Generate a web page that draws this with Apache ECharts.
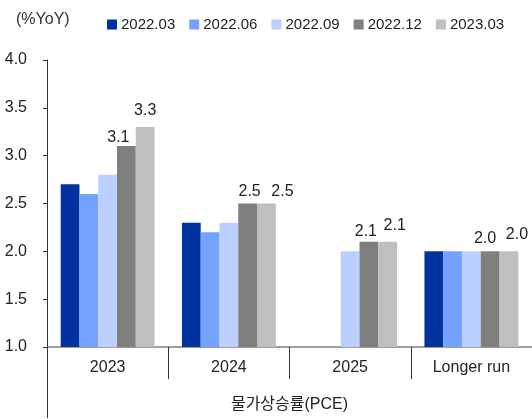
<!DOCTYPE html>
<html>
<head>
<meta charset="utf-8">
<script src="https://cdn.jsdelivr.net/npm/echarts@6/dist/echarts.min.js"></script>
<style>
  html, body { margin: 0; padding: 0; background: #fff; }
  #main { width: 532px; height: 419px; }
</style>
</head>
<body>
<div id="main"></div>
<script>
// 데이터
const categories = ['2023', '2024', '2025', 'Longer run'];
const groupLabel = '물가상승률(PCE)';
const seriesNames = ['2022.03', '2022.06', '2022.09', '2022.12', '2023.03'];
const v202203 = [2.7, 2.3, null, 2.0];
const v202206 = [2.6, 2.2, null, 2.0];
const v202209 = [2.8, 2.3, 2.0, 2.0];
const v202212 = [3.1, 2.5, 2.1, 2.0];
const v202303 = [3.3, 2.5, 2.1, 2.0];

const colors = ['#0033a0', '#75a1ff', '#bbd0ff', '#7f7f7f', '#bfbfbf'];
// 라벨 위치 미세조정 (원본 엑셀 차트의 수동 배치)
const labelShift12 = [[-8, 2], [2, -1], [-3, 1], [-5, -2]];
const labelShift03 = [[0, -5], [16, -1], [7, -5], [8, -6]];

const FONT = "'Liberation Sans', 'Noto Sans CJK KR', sans-serif";

var chartDom = document.getElementById('main');
var myChart = echarts.init(chartDom);

function withLabels(values, shifts) {
  return values.map((v, i) => ({
    value: v,
    label: { show: true, offset: shifts[i] },
  }));
}

const seriesData = [
  v202203,
  v202206,
  v202209,
  withLabels(v202212, labelShift12),
  withLabels(v202303, labelShift03),
];

var option = {
  animation: false,
  textStyle: { fontFamily: FONT },
  title: {
    text: '(%YoY)',
    left: 11,
    top: 7,
    textStyle: {
      fontFamily: FONT,
      fontSize: 16,
      fontWeight: 'normal',
      color: '#333',
    },
  },
  legend: {
    left: 102,
    top: 12,
    itemWidth: 10,
    itemHeight: 10,
    itemGap: 14,
    icon: 'rect',
    textStyle: { fontFamily: FONT, fontSize: 15, color: '#222', padding: [0, 0, 0, -1] },
    data: seriesNames,
  },
  grid: {
    left: 47,
    right: -1,
    top: 60,
    bottom: 72,
    containLabel: false,
  },
  xAxis: [
    {
      type: 'category',
      data: categories,
      position: 'bottom',
      axisLine: { show: true, lineStyle: { color: '#808080', width: 1.5 } },
      axisTick: { show: true, length: 32, lineStyle: { color: '#333' } },
      axisLabel: { fontFamily: FONT, fontSize: 16, color: '#222', margin: 13 },
    },
    {
      type: 'category',
      data: [groupLabel],
      position: 'bottom',
      axisLine: { show: false },
      axisTick: { show: true, length: 71, lineStyle: { color: '#333' } },
      axisLabel: { fontFamily: FONT, fontSize: 16, color: '#222', margin: 50 },
    },
  ],
  yAxis: {
    type: 'value',
    min: 1,
    max: 4,
    interval: 0.5,
    axisLine: { show: true, lineStyle: { color: '#333' } },
    axisTick: { show: true, length: 4, lineStyle: { color: '#333' } },
    splitLine: { show: false },
    axisLabel: {
      fontFamily: FONT,
      fontSize: 16,
      color: '#222',
      margin: 20,
      formatter: (v) => v.toFixed(1),
    },
  },
  series: seriesNames.map((name, i) => ({
    name: name,
    type: 'bar',
    xAxisIndex: 0,
    barGap: '0%',
    barCategoryGap: '22.6%',
    itemStyle: { color: colors[i] },
    label: {
      show: false,
      position: 'top',
      distance: 3,
      fontFamily: FONT,
      fontSize: 16,
      color: '#222',
      formatter: (p) => p.value.toFixed(1),
    },
    data: seriesData[i],
  })),
};

option && myChart.setOption(option);
</script>
</body>
</html>
